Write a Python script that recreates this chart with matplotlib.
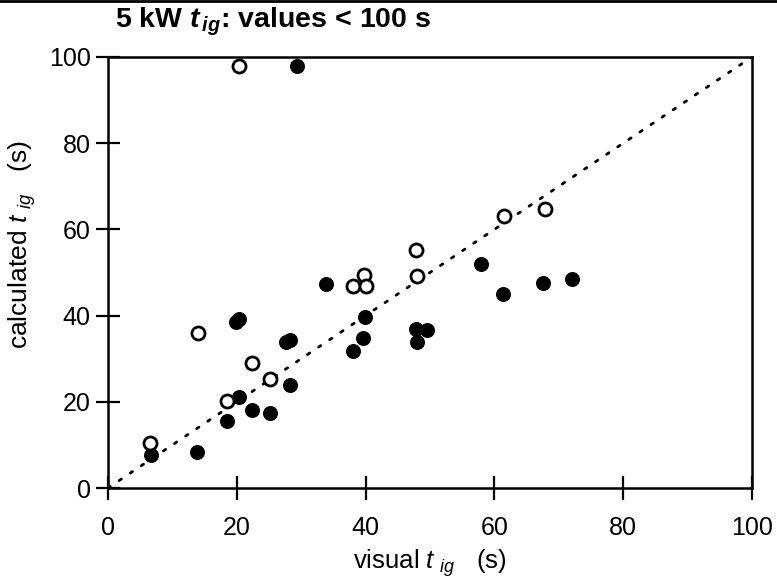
import matplotlib
matplotlib.use("Agg")
import matplotlib.pyplot as plt
from matplotlib.lines import Line2D

plt.rcParams['font.family'] = ['Liberation Sans', 'DejaVu Sans']
plt.rcParams['mathtext.fontset'] = 'custom'
plt.rcParams['mathtext.rm'] = 'Liberation Sans'
plt.rcParams['mathtext.it'] = 'Liberation Sans:italic'
plt.rcParams['mathtext.bf'] = 'Liberation Sans:bold'
plt.rcParams['mathtext.bfit'] = 'Liberation Sans:italic:bold'

# data
open_x = [6.5, 14.0, 18.5, 20.3, 22.4, 25.2, 38.1, 39.8, 40.0, 47.9, 48.0, 61.5, 67.8]
open_y = [10.5, 36.0, 20.3, 97.8, 28.9, 25.2, 46.9, 49.4, 46.9, 55.3, 49.1, 63.0, 64.7]

filled_x = [6.6, 13.8, 18.5, 19.8, 20.3, 20.3, 22.4, 25.2, 27.6, 28.2, 28.2, 29.3,
            33.8, 38.1, 39.6, 39.9, 47.8, 49.6, 48.0, 57.9, 61.3, 67.6, 72.0]
filled_y = [7.6, 8.4, 15.6, 38.5, 39.3, 21.0, 18.1, 17.5, 33.9, 34.3, 23.9, 97.8,
            47.3, 31.9, 34.7, 39.6, 36.8, 36.7, 33.8, 52.0, 44.9, 47.5, 48.5]

line_xy = [0, 100]
ticks = [0, 20, 40, 60, 80, 100]

fig = plt.figure(figsize=(7.77, 5.84), dpi=100)
ax = fig.add_axes([108/777, 1 - 488/584, (752 - 108)/777, (488 - 57)/584])

ax.plot(line_xy, line_xy, color='black', lw=2, linestyle=(0, (1, 3.8)),
        dash_capstyle='round', zorder=1)
ax.plot(filled_x, filled_y, 'o', color='black', markersize=10.8,
        markeredgewidth=0, zorder=2, linestyle='none')
ax.plot(open_x, open_y, 'o', markerfacecolor='white', markeredgecolor='black',
        markersize=9.4, markeredgewidth=2.0, zorder=3, linestyle='none')

ax.set_xlim(0, 100)
ax.set_ylim(0, 100)
ax.set_xticks(ticks)
ax.set_yticks(ticks)
ax.tick_params(direction='inout', length=17, width=1.6, labelsize=18,
               top=False, right=False)
ax.tick_params(axis='x', pad=12)
ax.tick_params(axis='y', pad=4)
for s in ax.spines.values():
    s.set_linewidth(1.8)

ax.set_xlabel(r'visual $t_{\;\,ig}$   (s)', fontsize=18.5, labelpad=5)
ax.set_ylabel(r'calculated $t_{\;\,ig}$   (s)', fontsize=19)
ax.yaxis.set_label_coords(-0.108, 0.564)

fig.text(115/777, 1 - 28/584, r'5 kW $\mathbfit{t}_{\,\mathbfit{ig}}$: values < 100 s',
         fontsize=20.5, fontweight='bold', ha='left', va='baseline')

# scan frame line at top
fig.add_artist(Line2D([0, 1], [0.998, 0.998], transform=fig.transFigure,
                      color='black', lw=2))

fig.savefig('out.png', dpi=100)
